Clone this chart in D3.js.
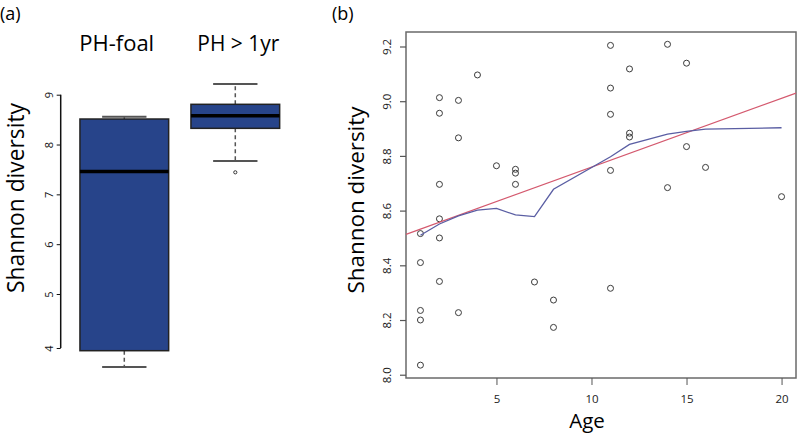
<!DOCTYPE html>
<html><head><meta charset="utf-8">
<script src="https://cdn.jsdelivr.net/npm/d3@7"></script>
<style>body{margin:0;background:#fff}svg{display:block}text{font-family:"Open Sans","Noto Sans",sans-serif}</style>
</head><body><svg id="c" width="797" height="433"></svg>
<script>
// ---- Panel (a) data: boxplot stats ----
const groups = ["PH-foal", "PH > 1yr"];
const boxLow = [3.65, 7.67];
const boxQ1 = [3.95, 8.325];
const boxMedian = [7.46, 8.578];
const boxQ3 = [8.512, 8.807];
const boxHigh = [8.558, 9.215];
const outliers = [[], [7.442]];
const aTicks = [4, 5, 6, 7, 8, 9];

// ---- Panel (b) data: scatter ----
const ages = [1,1,1,1,1, 2,2,2,2,2,2, 3,3,3, 4, 5, 6,6,6, 7, 8,8, 11,11,11,11,11, 12,12,12, 14,14, 15,15, 16, 20];
const shannon = [8.516,8.410,8.235,8.200,8.035, 9.013,8.956,8.696,8.570,8.500,8.341, 9.003,8.866,8.227, 9.096, 8.764, 8.751,8.737,8.696, 8.339, 8.273,8.173, 9.204,9.048,8.952,8.747,8.316, 9.118,8.883,8.869, 9.208,8.684, 9.139,8.834, 8.758, 8.651];
const lowessAge = [1,2,3,4,5,6,7,8,11,12,14,15,16,20];
const lowessVal = [8.510,8.551,8.581,8.602,8.608,8.584,8.578,8.678,8.797,8.842,8.880,8.890,8.898,8.903];
const lmIntercept = 8.507;
const lmSlope = 0.02518;
const bXTicks = [5, 10, 15, 20];
const bYTicks = [8.0, 8.2, 8.4, 8.6, 8.8, 9.0, 9.2];

const svg = d3.select("#c");

function fitText(sel, targetW) {
  const w = sel.node().getComputedTextLength();
  const fs = parseFloat(sel.attr("font-size"));
  sel.attr("font-size", fs * targetW / w);
}

// ---- Panel labels ----
svg.append("text").attr("x", 0).attr("y", 19.5).attr("font-size", 18).text("(a)");
svg.append("text").attr("x", 332).attr("y", 19.5).attr("font-size", 18).text("(b)");

// ---- Panel (a) ----
const ya = d3.scaleLinear().domain([4, 5, 9]).range([348, 294, 94.7]);
const xa = d3.scalePoint().domain(groups).range([124.3, 235.3]);
const boxW = 88.7;
const ga = svg.append("g");

const axA = ga.append("g").attr("transform", "translate(60.7,0)")
  .call(d3.axisLeft(ya).tickValues(aTicks).tickSize(4).tickFormat(d3.format("d")));
axA.select(".domain").attr("d", `M0,${ya(4)}V${ya(9)}`).attr("stroke", "#111").attr("stroke-width", 1.5);
axA.selectAll(".tick line").attr("stroke", "#111");
axA.selectAll(".tick text").attr("transform", "rotate(-90)").attr("x", 0).attr("y", -8)
  .attr("dy", 0).attr("text-anchor", "middle").attr("font-size", 11).attr("font-family", "Liberation Sans, Arial, sans-serif").attr("fill", "#111");

groups.forEach((g, i) => {
  const cx = xa(g);
  ga.append("line").attr("x1", cx).attr("x2", cx).attr("y1", ya(boxQ3[i])).attr("y2", ya(boxHigh[i]))
    .attr("stroke", "#555").attr("stroke-width", 1.5).attr("stroke-dasharray", "4,3");
  ga.append("line").attr("x1", cx).attr("x2", cx).attr("y1", ya(boxQ1[i])).attr("y2", ya(boxLow[i]))
    .attr("stroke", "#555").attr("stroke-width", 1.5).attr("stroke-dasharray", "4,3");
  [boxHigh[i], boxLow[i]].forEach(v => {
    ga.append("line").attr("x1", cx - boxW / 4).attr("x2", cx + boxW / 4).attr("y1", ya(v)).attr("y2", ya(v))
      .attr("stroke", "#555").attr("stroke-width", 2);
  });
  ga.append("rect").attr("x", cx - boxW / 2).attr("width", boxW)
    .attr("y", ya(boxQ3[i])).attr("height", ya(boxQ1[i]) - ya(boxQ3[i]))
    .attr("fill", "#27448a").attr("stroke", "#222").attr("stroke-width", 1.5);
  ga.append("line").attr("x1", cx - boxW / 2).attr("x2", cx + boxW / 2).attr("y1", ya(boxMedian[i])).attr("y2", ya(boxMedian[i]))
    .attr("stroke", "#000").attr("stroke-width", 3.5);
  outliers[i].forEach(v => {
    ga.append("circle").attr("cx", cx).attr("cy", ya(v)).attr("r", 1.6).attr("fill", "none").attr("stroke", "#333").attr("stroke-width", 1);
  });
});
let t = ga.append("text").attr("x", 116.7).attr("y", 50.5).attr("text-anchor", "middle").attr("font-size", 21).text(groups[0]); fitText(t, 75);
t = ga.append("text").attr("x", 238.3).attr("y", 50.5).attr("text-anchor", "middle").attr("font-size", 21).text(groups[1]); fitText(t, 82);
t = ga.append("text").attr("transform", "translate(24,198) rotate(-90)").attr("text-anchor", "middle").attr("font-size", 24).text("Shannon diversity"); fitText(t, 190);

// ---- Panel (b) ----
const xb = d3.scaleLinear().domain([0.24, 20.76]).range([406, 796]);
const yb = d3.scaleLinear().domain([7.988, 9.253]).range([378, 32]);
const gb = svg.append("g");

gb.append("rect").attr("x", 406).attr("y", 32).attr("width", 390).attr("height", 346)
  .attr("fill", "none").attr("stroke", "#6a6a6a").attr("stroke-width", 1.5);

const axBY = gb.append("g").attr("transform", "translate(406,0)")
  .call(d3.axisLeft(yb).tickValues(bYTicks).tickSize(6).tickFormat(d3.format(".1f")));
axBY.select(".domain").remove();
axBY.selectAll(".tick line").attr("stroke", "#555").attr("stroke-width", 1.2);
axBY.selectAll(".tick text").attr("transform", "rotate(-90)").attr("x", 0).attr("y", -15)
  .attr("dy", 0).attr("text-anchor", "middle").attr("font-size", 11.5).attr("font-family", "Liberation Sans, Arial, sans-serif").attr("fill", "#222");

const axBX = gb.append("g").attr("transform", "translate(0,378)")
  .call(d3.axisBottom(xb).tickValues(bXTicks).tickSize(7).tickFormat(d3.format("d")));
axBX.select(".domain").remove();
axBX.selectAll(".tick line").attr("stroke", "#555").attr("stroke-width", 1);
axBX.selectAll(".tick text").attr("y", 17).attr("dy", "0.71em").attr("font-size", 11.5).attr("font-family", "Liberation Sans, Arial, sans-serif").attr("fill", "#222");

gb.selectAll("circle.pt").data(ages.map((a, i) => [a, shannon[i]])).join("circle")
  .attr("class", "pt").attr("cx", d => xb(d[0])).attr("cy", d => yb(d[1])).attr("r", 3)
  .attr("fill", "none").attr("stroke", "#3a3a3a").attr("stroke-width", 1);

const dom = xb.domain();
gb.append("line").attr("x1", xb(dom[0])).attr("x2", xb(dom[1]))
  .attr("y1", yb(lmIntercept + lmSlope * dom[0])).attr("y2", yb(lmIntercept + lmSlope * dom[1]))
  .attr("stroke", "#d4596e").attr("stroke-width", 1.2);

gb.append("path").datum(lowessAge.map((a, i) => [a, lowessVal[i]]))
  .attr("d", d3.line().x(d => xb(d[0])).y(d => yb(d[1])))
  .attr("fill", "none").attr("stroke", "#5a5ea3").attr("stroke-width", 1.3);

t = gb.append("text").attr("transform", "translate(364,200) rotate(-90)").attr("text-anchor", "middle").attr("font-size", 24).text("Shannon diversity"); fitText(t, 187);
gb.append("text").attr("x", 587).attr("y", 428).attr("text-anchor", "middle").attr("font-size", 20.5).text("Age");
</script></body></html>
